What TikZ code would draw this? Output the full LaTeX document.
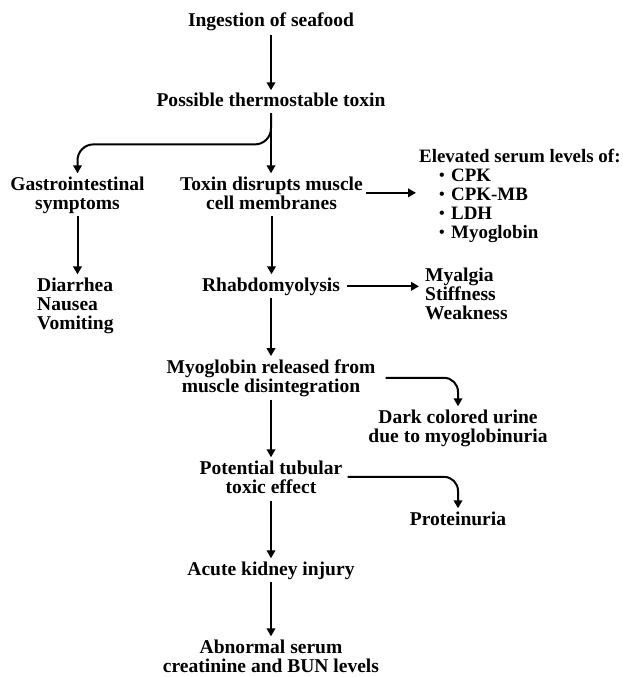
\documentclass[tikz,border=0pt]{standalone}
\usepackage{fontspec}
\setmainfont{Liberation Serif}
\usetikzlibrary{arrows.meta}
\newcommand{\bul}{\makebox[12bp][l]{\raisebox{1bp}{\fontsize{16}{16}\selectfont•}}}
\begin{document}
\begin{tikzpicture}[x=1bp,y=-1bp,
  every node/.style={font=\bfseries\fontsize{19.6}{19}\selectfont, inner sep=3bp},
  lbl/.style={align=center, anchor=base},
  lst/.style={align=left, anchor=base west},
  arr/.style={line width=2bp, -{Triangle[width=8.5bp,length=8bp]}}]
\useasboundingbox (0,0) rectangle (623,677);
\node[lbl] (ing) at (271,27) {Ingestion of seafood};
\node[lbl] (pos) at (271,107) {Possible thermostable toxin};
\node[lbl] (gas) at (77.5,209) {Gastrointestinal\\symptoms};
\node[lbl] (tox) at (271.5,209) {Toxin disrupts muscle\\cell membranes};
\node[lst, font=\bfseries\fontsize{19}{19}\selectfont] (elev) at (416,238) {Elevated serum levels of:\\
  \hspace{20bp}\bul CPK\\
  \hspace{20bp}\bul CPK-MB\\
  \hspace{20bp}\bul LDH\\
  \hspace{20bp}\bul Myoglobin};
\node[lst] (dia) at (34,329) {Diarrhea\\Nausea\\Vomiting};
\node[lbl] (rha) at (271,291) {Rhabdomyolysis};
\node[lst] (mya) at (422,319.5) {Myalgia\\Stiffness\\Weakness};
\node[lbl] (myo) at (271,392) {Myoglobin released from\\muscle disintegration};
\node[lbl] (uri) at (458,442) {Dark colored urine\\due to myoglobinuria};
\node[lbl] (pot) at (271,493) {Potential tubular\\toxic effect};
\node[lbl] (pro) at (458,525) {Proteinuria};
\node[lbl] (aki) at (271,575) {Acute kidney injury};
\node[lbl] (abn) at (271,672) {Abnormal serum\\creatinine and BUN levels};

\draw[arr] (ing.south) -- (pos.north);
\draw[arr, shorten <=3bp] (pos.south) -- (pos.south |- tox.north);
\draw[arr, rounded corners=16bp, shorten <=3bp] (pos.south) -- ++(0,34) -| (gas.north);
\draw[arr] (gas.south) -- (gas.south |- dia.north);
\draw[arr, shorten <=4bp] (tox.south) -- (tox.south |- rha.north);
\draw[arr] (tox.east) -- (tox.east -| elev.west);
\draw[arr, shorten <=4bp, shorten >=3bp] (rha.east) -- (rha.east -| mya.west);
\draw[arr] (rha.south) -- (myo.north);
\draw[arr, rounded corners=14bp] ([xshift=7bp]myo.east) -| (uri.north);
\draw[arr] (myo.south) -- (pot.north);
\draw[arr, rounded corners=14bp] ([xshift=2bp]pot.east) -| (pro.north);
\draw[arr, shorten <=5bp] (pot.south) -- (aki.north);
\draw[arr] (aki.south) -- (abn.north);
\end{tikzpicture}
\end{document}
